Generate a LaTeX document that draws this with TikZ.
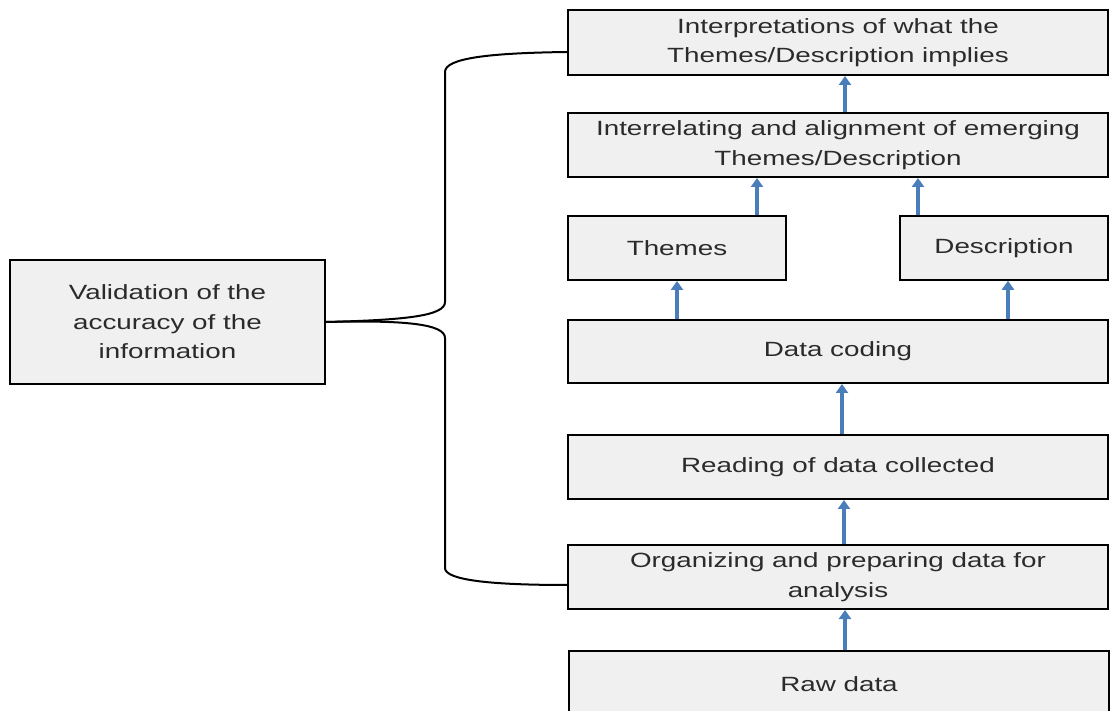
\documentclass[tikz,border=0pt]{standalone}
\usepackage{fontspec}
\setmainfont{Liberation Sans}[FakeStretch=1.35]
\usetikzlibrary{arrows.meta}

\definecolor{boxgray}{HTML}{F0F0F0}
\definecolor{flowblue}{HTML}{4A7EBB}
\definecolor{textgray}{HTML}{2B2B2B}

\tikzset{
	stage/.style={draw, fill=boxgray, line width=1pt, inner sep=0pt, align=center,
		minimum width=270pt, minimum height=32pt, text=textgray,
		font=\fontsize{10.3}{14.8}\selectfont},
	flow/.style={draw=flowblue, line width=1.8pt, -{Triangle[width=6pt,length=4.5pt]}},
	brace/.style={draw, line width=1pt}
}

\begin{document}
\begin{tikzpicture}[x=0.5pt, y=-0.5pt]
	
	% Page size of the reference
	\path[use as bounding box, clip] (0,0) rectangle (1110,711);
	
	% The steps of the analysis, bottom to top
	\node[stage, minimum height=33pt] (raw) at (839,684) {Raw data};
	\node[stage] (organ) at (838,577) {Organizing and preparing data for\\analysis};
	\node[stage] (reading) at (838,467) {Reading of data collected};
	\node[stage, minimum height=31.5pt] (coding) at (838,351.5) {Data coding};
	\node[stage, minimum width=109pt] (themes) at (677,248) {Themes};
	\node[stage, minimum width=104pt] (desc) at (1004,248) {Description};
	\node[stage] (interrel) at (838,145) {Interrelating and alignment of emerging\\Themes/Description};
	\node[stage, minimum height=32.5pt] (interp) at (838,42.5) {Interpretations of what the\\Themes/Description implies};
	
	% Validation box on the left
	\node[stage, minimum width=157.5pt, minimum height=62pt] (valid) at (167.5,322) {Validation of the\\accuracy of the\\information};
	
	% Blue arrows
	\draw[flow] (raw.north) ++(3pt,0) coordinate (a1) -- (a1 |- organ.south);
	\draw[flow] (organ.north) ++(3pt,0) coordinate (a2) -- (a2 |- reading.south);
	\draw[flow] (reading.north) ++(2pt,0) coordinate (a3) -- (a3 |- coding.south);
	\draw[flow] (coding.north -| themes.south) -- (themes.south);
	\draw[flow] (desc.south) ++(2pt,0) coordinate (a4);
	\draw[flow] (a4 |- coding.north) -- (a4);
	\draw[flow] (themes.north) ++(40pt,0) coordinate (a5) -- (a5 |- interrel.south);
	\draw[flow] (desc.north) ++(-43pt,0) coordinate (a6) -- (a6 |- interrel.south);
	\draw[flow] (interrel.north) ++(3.5pt,0) coordinate (a7) -- (a7 |- interp.south);
	
	% Brace from the validation box
	\draw[brace] (valid.east) .. controls (405,320) and (445,316) .. (445,302)
		-- (445,72) .. controls (445,58) and (490,53) .. ([yshift=-4.75pt]interp.west);
	\draw[brace] (valid.east) .. controls (405,320) and (445,324) .. (445,338)
		-- (445,568) .. controls (445,580) and (490,585) .. ([yshift=-4pt]organ.west);
	
\end{tikzpicture}
\end{document}
